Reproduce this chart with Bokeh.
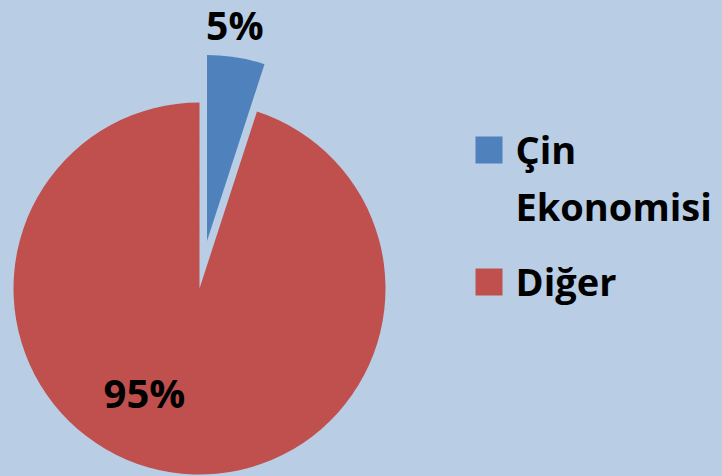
import math
from bokeh.plotting import figure
from bokeh.models import Range1d
from bokeh.core.properties import value
from bokeh.embed import file_html
from bokeh.resources import INLINE

# ---- data ----
categories = ["Çin Ekonomisi", "Diğer"]
shares = [5, 95]
pct_labels = ["5%", "95%"]
colors = ["#4F81BD", "#C0504D"]
BG = "#B9CDE5"

W, H = 722, 476
p = figure(width=W, height=H, output_backend="svg", toolbar_location=None,
           x_range=Range1d(0, W), y_range=Range1d(0, H),
           background_fill_color=BG, border_fill_color=BG, min_border=0)
p.axis.visible = False
p.grid.visible = False
p.outline_line_color = None

cx, cy = 199, 476 - 288
R = 186
explode = 48

total = sum(shares)
# slices go clockwise from 12 o'clock
start = 90.0
for i, (cat, s, col) in enumerate(zip(categories, shares, colors)):
    sweep = 360.0 * s / total
    a1 = start
    a0 = start - sweep
    mid = math.radians((a0 + a1) / 2)
    off = explode if i == 0 else 0
    x0 = cx + off * math.cos(mid)
    y0 = cy + off * math.sin(mid)
    p.wedge(x=[x0], y=[y0], radius=R, start_angle=[math.radians(a0)],
            end_angle=[math.radians(a1)], direction="anticlock",
            fill_color=col, line_color=None)
    if i == 0:
        lx = x0 + (R + 30) * math.cos(mid) - 6
        ly = y0 + (R + 30) * math.sin(mid) + 3
        base, fs = "alphabetic", "39px"
    else:
        lx = cx - 55
        ly = cy - 104
        base, fs = "middle", "40px"
    p.text(x=[lx], y=[ly], text=[pct_labels[i]], text_align="center",
           text_baseline=base, text_font=value("Open Sans"),
           text_font_style="bold", text_font_size=value(fs),
           text_color="black")
    start = a0

# legend drawn manually
leg_x = 488.5
leg_top = 476 - 149.5
line_step = 57
entry_gap = 132
text_x = 515
y_sq = leg_top
for cat, col in zip(categories, colors):
    p.rect(x=[leg_x], y=[y_sq], width=27, height=27, fill_color=col, line_color=None)
    lines = cat.split(" ")
    for j, ln in enumerate(lines):
        p.text(x=[text_x], y=[y_sq + 1.5 - j * line_step], text=[ln],
               text_align="left", text_baseline="alphabetic",
               text_font=value("Open Sans"), text_font_style="bold",
               text_font_size=value("38px"), text_color="black")
    y_sq -= entry_gap

html = file_html(p, INLINE)
html = html.replace("</head>", "<style>body{background:%s;}</style></head>" % BG, 1)
open("out.html", "w").write(html)
